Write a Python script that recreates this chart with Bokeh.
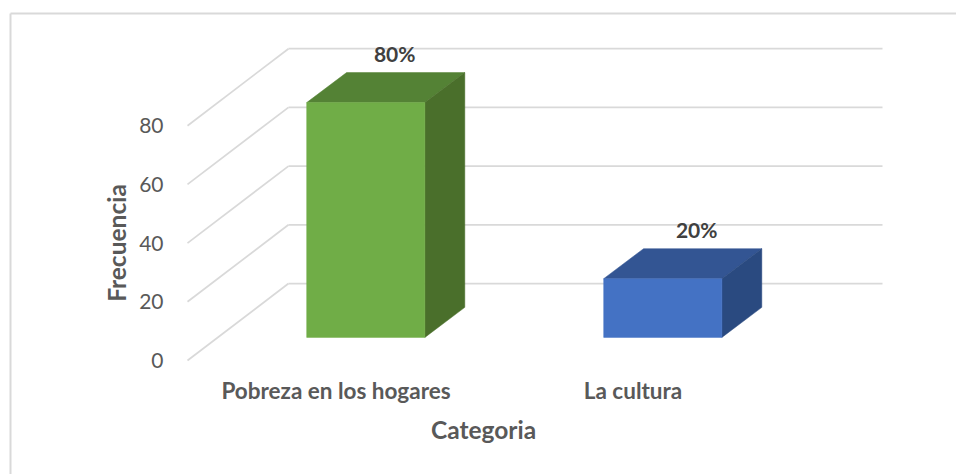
from bokeh.plotting import figure
from bokeh.models import LinearAxis, FixedTicker, Range1d
from bokeh.embed import file_html
from bokeh.resources import INLINE
from bokeh.core.properties import value

categories = ["Pobreza en los hogares", "La cultura"]
frecuencia = [80, 20]
etiquetas = ["80%", "20%"]
y_ticks = [0, 20, 40, 60, 80]
front_colors = ["#70ad47", "#4472c4"]
top_colors = ["#548235", "#335593"]
side_colors = ["#4a6f2b", "#2a4a80"]

W, H = 956, 474
PX_PER_CAT, PX_PER_VAL = 297.0, 2.935
ORIGIN_X, ORIGIN_Y = 335.5, 360.0   # page pixel of category 0 / value 0 on the front plane
DX, DY = 101 / PX_PER_CAT, 77 / PX_PER_VAL  # oblique depth vector in data units
D0, D1 = 0.295, 0.69   # bar depth within the floor
BAR = 0.398
LABEL_SHIFT_PX = [-3, 2]
FONT = "Lato"
GREY = "#d9d9d9"

def cx(page): return (page - ORIGIN_X) / PX_PER_CAT
def vy(page): return (ORIGIN_Y - page) / PX_PER_VAL

p = figure(width=W, height=H, output_backend="svg", toolbar_location=None,
           x_axis_type=None, y_axis_type=None, min_border=0,
           x_range=Range1d(cx(0), cx(W)), y_range=Range1d(vy(H), vy(0)))
p.outline_line_color = None
p.grid.visible = False

# frame of the picture
p.segment([cx(10), cx(10)], [vy(13), vy(13)], [cx(W), cx(10)], [vy(13), vy(H)],
          line_color=GREY, line_width=2)

# walls
left, right = cx(187), cx(781)
p.segment([left] * 5, y_ticks, [left + DX] * 5, [v + DY for v in y_ticks], line_color=GREY, line_width=1.75)
p.segment([left + DX] * 5, [v + DY for v in y_ticks], [right + DX] * 5, [v + DY for v in y_ticks],
          line_color=GREY, line_width=1.75)

# 3D bars
idx = list(range(len(categories)))
x0 = [i - BAR / 2 + D0 * DX for i in idx]
x1 = [i + BAR / 2 + D0 * DX for i in idx]
b0 = 0.30 * DY
shift_x, shift_y = (D1 - D0) * DX, (D1 - 0.30) * DY
p.patches([[a, b, b + shift_x, a + shift_x] for a, b in zip(x0, x1)],
          [[b0 + v, b0 + v, b0 + v + shift_y, b0 + v + shift_y] for v in frecuencia],
          fill_color=top_colors, line_color=top_colors, line_width=0.5)
p.patches([[b, b + shift_x, b + shift_x, b] for b in x1],
          [[b0, b0 + shift_y, b0 + v + shift_y, b0 + v] for v in frecuencia],
          fill_color=side_colors, line_color=side_colors, line_width=0.5)
p.quad(left=x0, right=x1, bottom=[b0] * 2, top=[b0 + v for v in frecuencia],
       fill_color=front_colors, line_color=front_colors, line_width=0.5)

# data labels
p.text([(a + b) / 2 + shift_x * 0.8 + s / PX_PER_CAT for a, b, s in zip(x0, x1, LABEL_SHIFT_PX)],
       [b0 + v + shift_y for v in frecuencia], text=etiquetas,
       text_font=value(FONT), text_font_style="bold", text_font_size="21px",
       text_color="#404040", text_align="center", text_baseline="middle", y_offset=-19)

# axes
yax = LinearAxis(ticker=FixedTicker(ticks=y_ticks), axis_label="Frecuencia",
                 bounds=(vy(474), vy(11)))
yax.fixed_location = cx(175)
yax.axis_line_color = None
yax.major_tick_line_color = None
yax.minor_tick_line_color = None
yax.major_label_text_font = FONT
yax.major_label_text_font_size = "21px"
yax.major_label_text_color = "#595959"
yax.major_label_standoff = 6
yax.axis_label_text_font = FONT
yax.axis_label_text_font_style = "bold"
yax.axis_label_text_font_size = "24.5px"
yax.axis_label_text_color = "#595959"
yax.axis_label_standoff = 5
p.add_layout(yax, "left")

xax = LinearAxis(ticker=FixedTicker(ticks=idx),
                 major_label_overrides={i: c for i, c in zip(idx, categories)},
                 axis_label="Categoria", bounds=(cx(16), cx(950)))
xax.fixed_location = vy(369)
xax.axis_line_color = None
xax.major_tick_line_color = None
xax.minor_tick_line_color = None
xax.major_label_text_font = FONT
xax.major_label_text_font_style = "bold"
xax.major_label_text_font_size = "22.5px"
xax.major_label_text_color = "#595959"
xax.major_label_standoff = 1
xax.axis_label_text_font = FONT
xax.axis_label_text_font_style = "bold"
xax.axis_label_text_font_size = "24.5px"
xax.axis_label_text_color = "#595959"
xax.axis_label_standoff = 8
p.add_layout(xax, "below")

open("out.html", "w").write(file_html(p, INLINE))
